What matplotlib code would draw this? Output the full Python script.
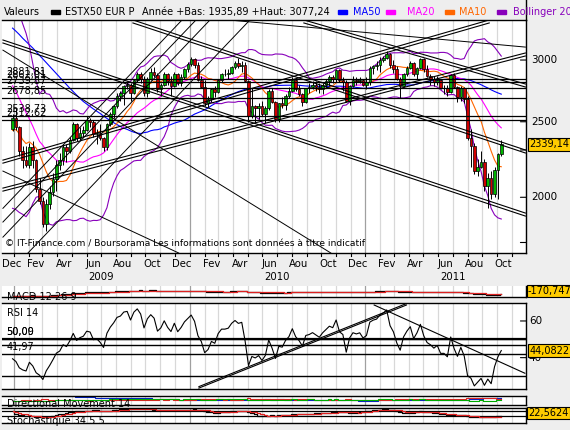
import numpy as np
import pandas as pd
import matplotlib
matplotlib.use("Agg")
import matplotlib.pyplot as plt
import matplotlib.dates as mdates

# ---------------- data ----------------
start_date = "2008-12-29"   # weekly candles
opens = [2450, 2530, 2460, 2290, 2230, 2200, 2320, 2230, 2050, 1980, 1850, 1960, 2030, 2110, 2200, 2230, 2320, 2290, 2370, 2480,
         2380, 2420, 2440, 2510, 2500, 2410, 2420, 2380, 2320, 2480, 2560, 2620, 2700, 2720, 2780, 2790, 2720, 2830, 2880, 2840,
         2720, 2840, 2900, 2870, 2750, 2790, 2880, 2820, 2780, 2880, 2800, 2850, 2920, 2965, 3010, 2960, 2830, 2770, 2640, 2670,
         2750, 2730, 2830, 2880, 2880, 2890, 2940, 2970, 2950, 2960, 2820, 2540, 2620, 2600, 2620, 2560, 2600, 2740, 2650, 2520,
         2640, 2630, 2700, 2740, 2830, 2750, 2710, 2650, 2760, 2770, 2790, 2770, 2750, 2790, 2820, 2850, 2840, 2910, 2830, 2810,
         2660, 2780, 2830, 2820, 2830, 2790, 2810, 2930, 2950, 2960, 3000, 3020, 3050, 2960, 2920, 2840, 2780, 2880, 2930, 2970,
         2880, 2930, 3010, 2920, 2860, 2840, 2810, 2830, 2760, 2760, 2730, 2870, 2770, 2690, 2760, 2670, 2380, 2330, 2160, 2190,
         2220, 2070, 2120, 2020, 2170, 2270]
highs = [2560, 2600, 2470, 2330, 2330, 2350, 2360, 2240, 2120, 2000, 1990, 2070, 2150, 2230, 2280, 2340, 2340, 2390, 2500, 2490,
         2460, 2470, 2540, 2530, 2510, 2450, 2480, 2390, 2490, 2570, 2630, 2720, 2740, 2790, 2820, 2800, 2840, 2900, 2900, 2860,
         2850, 2930, 2940, 2890, 2800, 2900, 2890, 2860, 2900, 2890, 2880, 2930, 2980, 3030, 3020, 2980, 2860, 2830, 2700, 2760,
         2780, 2840, 2890, 2920, 2920, 2950, 2990, 3020, 2990, 2980, 2830, 2760, 2630, 2640, 2660, 2620, 2750, 2760, 2660, 2640,
         2690, 2710, 2770, 2850, 2840, 2790, 2720, 2760, 2800, 2820, 2820, 2800, 2800, 2840, 2870, 2870, 2920, 2920, 2850, 2830,
         2790, 2860, 2850, 2850, 2840, 2850, 2950, 2960, 2990, 3030, 3040, 3077, 3060, 3000, 2950, 2850, 2890, 2950, 2990, 2980,
         2940, 3020, 3020, 2960, 2880, 2860, 2860, 2840, 2790, 2790, 2880, 2890, 2780, 2780, 2770, 2700, 2450, 2350, 2240, 2290,
         2240, 2150, 2160, 2190, 2280, 2370]
lows = [2430, 2440, 2260, 2180, 2190, 2180, 2180, 2030, 1960, 1830, 1810, 1930, 2010, 2040, 2170, 2200, 2220, 2280, 2360, 2360,
        2370, 2390, 2430, 2460, 2390, 2340, 2370, 2290, 2300, 2470, 2530, 2600, 2660, 2630, 2750, 2660, 2710, 2810, 2800, 2700,
        2690, 2830, 2850, 2730, 2700, 2780, 2790, 2700, 2770, 2790, 2780, 2840, 2900, 2950, 2930, 2820, 2760, 2620, 2610, 2650,
        2690, 2720, 2810, 2860, 2840, 2880, 2920, 2930, 2900, 2810, 2500, 2530, 2490, 2520, 2540, 2490, 2590, 2640, 2500, 2500,
        2600, 2590, 2680, 2730, 2740, 2700, 2620, 2640, 2720, 2750, 2740, 2720, 2710, 2760, 2780, 2800, 2810, 2810, 2740, 2650,
        2630, 2770, 2790, 2800, 2780, 2750, 2790, 2880, 2910, 2900, 2980, 3010, 2930, 2890, 2830, 2680, 2770, 2860, 2920, 2860,
        2840, 2920, 2900, 2850, 2790, 2780, 2790, 2750, 2710, 2700, 2720, 2760, 2650, 2660, 2640, 2370, 2190, 2140, 2130, 2180,
        2040, 1936, 1990, 2000, 1990, 2260]
closes = [2530, 2460, 2290, 2230, 2200, 2320, 2230, 2050, 1980, 1850, 1960, 2030, 2110, 2200, 2230, 2320, 2290, 2370, 2480, 2380,
          2420, 2440, 2510, 2500, 2410, 2420, 2380, 2320, 2480, 2560, 2620, 2700, 2720, 2780, 2790, 2720, 2830, 2880, 2840, 2720,
          2840, 2900, 2870, 2750, 2790, 2880, 2820, 2780, 2880, 2800, 2850, 2920, 2965, 3010, 2960, 2830, 2770, 2640, 2670, 2750,
          2730, 2830, 2880, 2880, 2890, 2940, 2970, 2950, 2960, 2820, 2540, 2620, 2600, 2620, 2560, 2600, 2740, 2650, 2520, 2640,
          2630, 2700, 2740, 2830, 2750, 2710, 2650, 2760, 2770, 2790, 2770, 2750, 2790, 2820, 2850, 2840, 2910, 2830, 2810, 2660,
          2780, 2830, 2820, 2830, 2790, 2810, 2930, 2950, 2960, 3000, 3020, 3050, 2960, 2920, 2840, 2780, 2880, 2930, 2970, 2880,
          2930, 3010, 2920, 2860, 2840, 2810, 2830, 2760, 2760, 2730, 2870, 2770, 2690, 2760, 2670, 2380, 2330, 2160, 2190, 2220,
          2070, 2120, 2020, 2170, 2270, 2339.14]
# 2008 weekly closes (indicator warm-up only, not drawn as candles)
pre_closes = [4330, 4180, 3960, 3890, 3990, 3750, 3800, 3760, 3720, 3580, 3520, 3560, 3640, 3740, 3690, 3800, 3850,
              3900, 3800, 3850, 3750, 3780, 3640, 3500, 3450, 3380, 3280, 3240, 3300, 3350, 3370, 3400, 3400, 3400,
              3370, 3250, 3270, 3290, 3200, 3000, 2400, 2650, 2400, 2590, 2650, 2470, 2200, 2430, 2280, 2400, 2420]

# horizontal levels drawn on the price chart and their tags
price_levels = [2834, 2814, 2764, 2678, 2545, 2512]
price_level_tags = ["2881,81", "2862,01", "2739,87", "2678,85", "2538,73", "2512,62"]
# double trend lines on the price chart: (date1, price1, date2, price2)
price_channels = [
    ("2008-12-09", 3183, "2011-11-29", 1909),
    ("2009-09-05", 3377, "2011-11-29", 2300),
    ("2010-08-26", 3377, "2011-11-29", 2795),
    ("2008-12-09", 2232, "2011-09-15", 3377),
    ("2008-12-09", 2055, "2011-11-29", 3063),
]
# single trend lines on the price chart
price_trends = [
    ("2009-01-30", 1696.5, "2010-05-06", 3377),
    ("2008-12-09", 1936, "2009-12-16", 3377),
    ("2008-12-09", 1859, "2010-01-14", 3377),
    ("2008-12-09", 1778, "2010-02-12", 3377),
    ("2008-12-09", 2161, "2009-12-09", 1696.5),
    ("2008-12-09", 3089, "2010-10-21", 1696.5),
    ("2010-03-23", 3377, "2011-11-29", 3117),
]
price_ticks = [2000, 2500, 3000]
minor_price_ticks = [1750, 2300]
last_price_tag = "2339,14"

rsi_levels = [50.0, 50.09, 47.0, 41.97, 30.0]
rsi_level_widths = [1.6, 1.0, 1.0, 1.0, 1.0]
rsi_level_tags = ["50,00", "50,09", "", "41,97", ""]
rsi_trends = [("2010-01-20", 23.4, "2011-03-27", 68.7),
              ("2011-01-19", 68.7, "2011-11-28", 31.5)]
rsi_ticks = [40, 60]
rsi_tag = "44,0822"
macd_tag = "-170,747"
stoch_tag = "22,5624"

month_names = ["Dec", "Fev", "Avr", "Jun", "Aou", "Oct"]
years = ["2009", "2010", "2011"]

# ---------------- helpers ----------------
W, H = 570.0, 430.0
fig = plt.figure(figsize=(5.7, 4.3), dpi=100)
fig.patch.set_facecolor("#EEEEEE")
plt.rcParams["font.family"] = ["DejaVu Sans"]

def rect(x0, y0, x1, y1):
    return [x0 / W, 1 - y1 / H, (x1 - x0) / W, (y1 - y0) / H]

def fx(x):
    return x / W

def fy(y):
    return 1 - y / H

dates = pd.date_range(start_date, periods=len(closes), freq="7D")
d = mdates.date2num(dates)
o = np.array(opens, float); h = np.array(highs, float)
l = np.array(lows, float); c = np.array(closes, float)
allc = pd.Series(list(pre_closes) + list(closes), dtype=float)
npre = len(pre_closes)

ref = mdates.date2num(pd.Timestamp("2009-01-01"))
ppd = 0.4815  # pixels per day
xlim = (ref - (14 - 2) / ppd, ref + (526 - 14) / ppd)

def tnum(s):
    return mdates.date2num(pd.Timestamp(s))

def style_panel(a, ylim):
    a.set_facecolor("white")
    a.set_xlim(*xlim)
    a.set_ylim(*ylim)
    a.set_xticks([]); a.set_yticks([])
    a.spines["left"].set_visible(False)
    for s in ["top", "right", "bottom"]:
        a.spines[s].set_color("black"); a.spines[s].set_linewidth(1.0)
    for yr in [2009, 2010, 2011]:
        for m in range(1, 13):
            t = mdates.date2num(pd.Timestamp(yr, m, 1))
            col = "#A0A0A0" if m == 1 else "#D8D8D8"
            a.axvline(t, color=col, lw=0.9, zorder=0)
    a.axvline(tnum("2008-12-01"), color="#D8D8D8", lw=0.9, zorder=0)

def right_ticks(a, vals):
    for v in vals:
        a.annotate("", xy=(1, v), xycoords=("axes fraction", "data"),
                   xytext=(-4, 0), textcoords="offset points",
                   arrowprops=dict(arrowstyle="-", lw=0.8, color="black",
                                   shrinkA=0, shrinkB=0))

# ---------------- main price panel ----------------
ax = fig.add_axes(rect(2, 20, 526, 253))
ax.set_yscale("log")
style_panel(ax, (1696.5, 3376.6))
ax.yaxis.set_minor_locator(matplotlib.ticker.NullLocator())
ax.set_yticks([])

ma50 = allc.rolling(50).mean().values[npre:]
ma20 = allc.rolling(20).mean().values[npre:]
ma10 = allc.rolling(10).mean().values[npre:]
sd20 = allc.rolling(20).std(ddof=0).values[npre:]
ax.plot(d, ma50, color="#0000FF", lw=0.8, zorder=2)
ax.plot(d, ma20, color="#FF00FF", lw=0.8, zorder=2)
ax.plot(d, ma10, color="#FF6600", lw=0.8, zorder=2)
ax.plot(d, ma20 + 2 * sd20, color="#8800BB", lw=0.8, zorder=2)
ax.plot(d, ma20 - 2 * sd20, color="#8800BB", lw=0.8, zorder=2)

up = c >= o
cols = np.where(up, "#00B400", "#D00000")
ax.vlines(d, l, h, color="black", lw=0.7, zorder=3)
body_lo = np.minimum(o, c); body_hi = np.maximum(o, c)
ax.bar(d, body_hi - body_lo, bottom=body_lo, width=5.4, color=cols,
       edgecolor="black", linewidth=0.5, zorder=4)

dbl = 10 ** (-3.0 / 779.5)
for (d1, p1, d2, p2) in price_channels:
    t1 = tnum(d1); t2 = tnum(d2)
    ax.plot([t1, t2], [p1, p2], color="black", lw=0.8, zorder=6)
    ax.plot([t1, t2], [p1 * dbl, p2 * dbl], color="black", lw=0.8, zorder=6)
for (d1, p1, d2, p2) in price_trends:
    ax.plot([tnum(d1), tnum(d2)], [p1, p2], color="black", lw=0.7, zorder=6)
for lev, tag in zip(price_levels, price_level_tags):
    ax.axhline(lev, color="black", lw=0.9, zorder=6)
    ax.annotate(tag, xy=(xlim[0], lev), xytext=(3, 1.5), textcoords="offset points",
                fontsize=7, va="bottom", ha="left", zorder=7)

ax.text(0.006, 0.04, "© IT-Finance.com / Boursorama Les informations sont données à titre indicatif",
        transform=ax.transAxes, fontsize=6.6, va="center", ha="left", zorder=8)

right_ticks(ax, price_ticks + minor_price_ticks)
for p in price_ticks:
    ax.annotate(str(p), xy=(1, p), xycoords=("axes fraction", "data"), xytext=(3.5, 0),
                textcoords="offset points", fontsize=7.5, va="center", ha="left",
                annotation_clip=False)
ax.annotate(last_price_tag, xy=(1, c[-1]), xycoords=("axes fraction", "data"),
            xytext=(2.5, 0), textcoords="offset points", fontsize=7.0, va="center", ha="left",
            annotation_clip=False,
            bbox=dict(boxstyle="square,pad=0.15", fc="#FFCC00", ec="black", lw=0.8))

# month / year labels
label_years = [2008, 2009, 2009, 2009, 2009, 2009, 2009, 2010, 2010, 2010, 2010, 2010, 2010,
               2011, 2011, 2011, 2011, 2011]
for i, yr in enumerate(label_years):
    m = [12, 2, 4, 6, 8, 10][i % 6]
    day = 27 if i == 0 else 15
    t = mdates.date2num(pd.Timestamp(yr, m, day))
    xpix = 14 + (t - ref) * ppd
    fig.text(fx(xpix), fy(264), month_names[i % 6], fontsize=7.3, ha="center", va="center")
for i, ystr in enumerate(years):
    t = mdates.date2num(pd.Timestamp(int(ystr), 7, 1))
    fig.text(fx(14 + (t - ref) * ppd), fy(277), ystr, fontsize=7.3, ha="center", va="center")
for yr in [2009, 2010, 2011]:
    for m in range(1, 13):
        t = mdates.date2num(pd.Timestamp(yr, m, 1))
        xp = 14 + (t - ref) * ppd
        if xp < 526:
            fig.add_artist(plt.Line2D([fx(xp), fx(xp)], [fy(253), fy(256)], color="black", lw=0.8))

# ---------------- legend row ----------------
fig.add_artist(plt.Line2D([fx(526), fx(526)], [fy(0), fy(20)], color="black", lw=1.0))
fig.text(fx(4), fy(12), "Valeurs", fontsize=7, va="center", ha="left")
def swatch(x, col):
    fig.add_artist(matplotlib.patches.Rectangle((fx(x), fy(14)), 9 / W, 4 / H, color=col,
                                                transform=fig.transFigure))
swatch(51, "black")
fig.text(fx(65), fy(12), "ESTX50 EUR P", fontsize=7, va="center", ha="left")
fig.text(fx(142), fy(12), "Année +Bas: 1935,89 +Haut: 3077,24", fontsize=7, va="center", ha="left")
swatch(338, "#0000FF")
fig.text(fx(353), fy(12), "MA50", fontsize=7, va="center", ha="left", color="#0000FF")
swatch(386, "#FF00FF")
fig.text(fx(407), fy(12), "MA20", fontsize=7, va="center", ha="left", color="#FF00FF")
swatch(445, "#FF6600")
fig.text(fx(459), fy(12), "MA10", fontsize=7, va="center", ha="left", color="#FF6600")
swatch(497, "#8800BB")
fig.text(fx(513), fy(12), "Bollinger 20", fontsize=7, va="center", ha="left", color="#8800BB")

# ---------------- MACD panel ----------------
ema12 = allc.ewm(span=12, adjust=False).mean()
ema26 = allc.ewm(span=26, adjust=False).mean()
macd = (ema12 - ema26).values[npre:]
sig = (ema12 - ema26).ewm(span=9, adjust=False).mean().values[npre:]
axm = fig.add_axes(rect(2, 286, 526, 297))
style_panel(axm, (-375, 450))
axm.spines["top"].set_visible(False)
axm.step(d, macd, color="black", lw=0.9, where="mid")
axm.step(d, sig, color="#DD2222", lw=0.9, where="mid")
axm.text(0.01, 0.0, "MACD 12 26 9", transform=axm.transAxes, fontsize=7, va="center", ha="left")
fig.text(fx(528), fy(291), macd_tag, fontsize=7.0, va="center", ha="left",
         bbox=dict(boxstyle="square,pad=0.15", fc="#FFCC00", ec="black", lw=0.8))

# ---------------- RSI panel ----------------
delta = allc.diff()
gain = delta.clip(lower=0).ewm(alpha=1 / 14, adjust=False).mean()
loss = (-delta.clip(upper=0)).ewm(alpha=1 / 14, adjust=False).mean()
rsi = (100 - 100 / (1 + gain / loss)).values[npre:]
axr = fig.add_axes(rect(2, 303, 526, 389))
style_panel(axr, (22.9, 69.8))
axr.plot(d, rsi, color="black", lw=0.8, zorder=3)
for lev, tag, lw in zip(rsi_levels, rsi_level_tags, rsi_level_widths):
    axr.axhline(lev, color="black", lw=lw, zorder=2)
    if tag:
        axr.annotate(tag, xy=(xlim[0], lev), xytext=(3, 1.5), textcoords="offset points",
                     fontsize=7, va="bottom", ha="left")
for k, (d1, p1, d2, p2) in enumerate(rsi_trends):
    t1 = tnum(d1); t2 = tnum(d2)
    axr.plot([t1, t2], [p1, p2], color="black", lw=0.8, zorder=4)
    if k == 0:
        axr.plot([t1, t2], [p1 + 0.8, p2 + 0.8], color="black", lw=0.8, zorder=4)
right_ticks(axr, rsi_ticks)
for v in rsi_ticks:
    axr.annotate(str(v), xy=(1, v), xycoords=("axes fraction", "data"), xytext=(2, 0),
                 textcoords="offset points", fontsize=7.5, va="center", ha="left",
                 annotation_clip=False)
axr.text(0.01, 0.88, "RSI 14", transform=axr.transAxes, fontsize=7, va="center", ha="left")
axr.annotate(rsi_tag, xy=(1, rsi[-1]), xycoords=("axes fraction", "data"),
             xytext=(2.5, 0), textcoords="offset points", fontsize=7.0, va="center", ha="left",
             annotation_clip=False,
             bbox=dict(boxstyle="square,pad=0.15", fc="#FFCC00", ec="black", lw=0.8))

# ---------------- Directional movement ----------------
hs = pd.Series(h); ls = pd.Series(l); cs = pd.Series(c)
upm = hs.diff(); dnm = -ls.diff()
pdm = np.where((upm > dnm) & (upm > 0), upm, 0.0)
mdm = np.where((dnm > upm) & (dnm > 0), dnm, 0.0)
tr = pd.concat([hs - ls, (hs - cs.shift()).abs(), (ls - cs.shift()).abs()], axis=1).max(axis=1)
atr = tr.ewm(alpha=1 / 14, adjust=False).mean()
pdi = 100 * pd.Series(pdm).ewm(alpha=1 / 14, adjust=False).mean() / atr
mdi = 100 * pd.Series(mdm).ewm(alpha=1 / 14, adjust=False).mean() / atr
adx = (100 * (pdi - mdi).abs() / (pdi + mdi)).ewm(alpha=1 / 14, adjust=False).mean()
axd = fig.add_axes(rect(2, 396, 526, 405))
style_panel(axd, (-40, 60))
axd.step(d, adx, color="#0022CC", lw=0.8, where="mid")
axd.step(d, mdi, color="#DD2222", lw=0.8, where="mid")
axd.step(d, pdi, color="#00AA00", lw=0.8, where="mid")
axd.text(0.01, 0.1, "Directional Movement 14", transform=axd.transAxes, fontsize=7, va="center", ha="left")

# ---------------- Stochastic ----------------
ll = ls.rolling(34, min_periods=1).min(); hh = hs.rolling(34, min_periods=1).max()
k = (100 * (cs - ll) / (hh - ll)).rolling(5, min_periods=1).mean()
dd = k.rolling(5, min_periods=1).mean()
axs = fig.add_axes(rect(2, 408, 526, 423))
style_panel(axs, (-60, 110))
axs.axhline(80, color="black", lw=0.9)
axs.axhline(20, color="black", lw=0.9)
axs.step(d, k, color="black", lw=0.9, where="mid")
axs.step(d, dd, color="#DD2222", lw=0.9, where="mid")
axs.text(0.01, 0.1, "Stochastique 34 5 5", transform=axs.transAxes, fontsize=7, va="center", ha="left")
fig.text(fx(528), fy(413), stoch_tag, fontsize=7.0, va="center", ha="left",
         bbox=dict(boxstyle="square,pad=0.15", fc="#FFCC00", ec="black", lw=0.8))

fig.savefig("out.png", dpi=100, facecolor=fig.get_facecolor())
